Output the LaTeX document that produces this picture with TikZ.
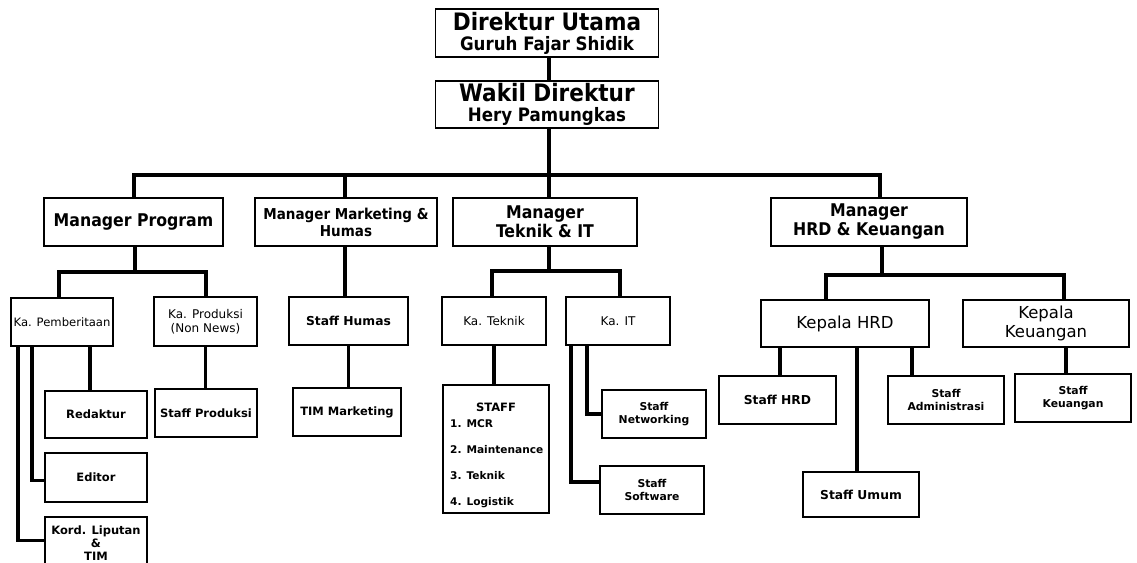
\documentclass[tikz,border=0pt]{standalone}
\usepackage{fontspec}
\setmainfont{DejaVu Sans}
\newfontfamily\hdfont{DejaVu Sans Condensed}
\newfontfamily\cmfont{DejaVu Sans}
\begin{document}
\begin{tikzpicture}[x=1pt,y=-1pt,
  box/.style={draw, line width=1.6pt, inner sep=0pt, align=center},
  sz/.style 2 args={minimum width=#1pt, minimum height=#2pt},
  conn/.style={line width=3.2pt},
  bus/.style={line width=4pt},
  top/.style={font=\hdfont\bfseries\fontsize{24}{20}\selectfont},
  hd/.style={font=\hdfont\bfseries\fontsize{17.5}{19}\selectfont},
  hds/.style={font=\hdfont\bfseries\fontsize{15}{17}\selectfont},
  sm/.style={font=\cmfont\bfseries\fontsize{11.5}{13}\selectfont},
  smb/.style={font=\cmfont\bfseries\fontsize{12.3}{14}\selectfont},
  sm2/.style={font=\cmfont\bfseries\fontsize{10.8}{13}\selectfont},
  smr/.style={font=\cmfont\fontsize{12}{14}\selectfont},
  kp/.style={font=\cmfont\fontsize{16.5}{19}\selectfont}]
\useasboundingbox (0,0) rectangle (1137,562);
\fill[white] (0,0) rectangle (1137,562);

% top
\node[box, sz={223}{48}, top] (dir) at (547,33)
  {Direktur Utama\\{\fontsize{18.5}{20}\selectfont Guruh Fajar Shidik}};
\node[box, sz={223}{47}, top] (wakil) at (547,104.5)
  {Wakil Direktur\\{\fontsize{18.5}{20}\selectfont Hery Pamungkas}};

% managers
\node[box, sz={179}{48}, hd] (mprog) at (133.5,222) {Manager Program};
\node[box, sz={182}{48}, hds] (mmark) at (346,222) {Manager Marketing \&\\Humas};
\node[box, sz={184}{48}, hd] (mtek) at (545,222) {Manager\\Teknik \& IT};
\node[box, sz={196}{48}, hd] (mhrd) at (869,222) {Manager\\HRD \& Keuangan};

% second level
\node[box, sz={102}{48}, smr, font=\cmfont\fontsize{11.6}{14}\selectfont] (kapem) at (62,322) {Ka. Pemberitaan};
\node[box, sz={103}{49}, smr] (kaprod) at (205.5,321.5) {Ka. Produksi\\(Non News)};
\node[box, sz={119}{48}, smb] (shumas) at (348.5,321) {Staff Humas};
\node[box, sz={104}{48}, smr] (katek) at (494,321) {Ka. Teknik};
\node[box, sz={104}{48}, smr] (kait) at (618,321) {Ka. IT};
\node[box, sz={168}{47}, kp] (kahrd) at (845,323.5) {Kepala HRD};
\node[box, sz={166}{47}, kp] (kakeu) at (1046,323.5) {Kepala\\Keuangan};

% third level
\node[box, sz={102}{47}, sm] (redaktur) at (96,414.5) {Redaktur};
\node[box, sz={102}{49}, sm] (editor) at (96,477.5) {Editor};
\node[box, sz={102}{53}, sm] (kord) at (96,543.5) {Kord. Liputan\\\&\\TIM};
\node[box, sz={102}{48}, sm] (sprod) at (206,413) {Staff Produksi};
\node[box, sz={108}{48}, sm] (timmark) at (347,412) {TIM Marketing};
\node[box, sz={106}{128}] (staffbox) at (496,449) {};
\node[sm, inner sep=0pt] (stafftitle) at (496,407) {STAFF};
\node[inner sep=0pt, anchor=north west, align=left, font=\cmfont\bfseries\fontsize{10.6}{26}\selectfont] (stafflist) at (450,419)
  {1. MCR\\2. Maintenance\\3. Teknik\\4. Logistik};
\node[box, sz={104}{48}, sm2] (snet) at (654,414) {Staff\\Networking};
\node[box, sz={104}{48}, sm2] (ssoft) at (652,490) {Staff\\Software};
\node[box, sz={117}{48}, smb] (shrd) at (777.5,400) {Staff HRD};
\node[box, sz={116}{45}, smb] (sumum) at (861,494.5) {Staff Umum};
\node[box, sz={116}{48}, sm2] (sadm) at (946,400) {Staff\\Administrasi};
\node[box, sz={116}{48}, sm2] (skeu) at (1073,398) {Staff\\Keuangan};

% coordinates
\coordinate (bL) at (134,175);
\coordinate (bR) at (880,175);
\coordinate (bW) at (549,175);
\coordinate (bM) at (345,175);
\coordinate (pP) at (135,272);
\coordinate (pL) at (59,272);
\coordinate (pR) at (206,272);
\coordinate (tL) at (492,271);
\coordinate (tR) at (620,271);
\coordinate (hP) at (882,275);
\coordinate (hL) at (826,275);
\coordinate (hR) at (1064,275);
\coordinate (e1) at (18,0);
\coordinate (e2) at (32,0);
\coordinate (e3) at (90,0);
\coordinate (i1) at (571,0);
\coordinate (i2) at (587,0);
\coordinate (k1) at (780,0);
\coordinate (k2) at (857,0);
\coordinate (k3) at (912,0);
\coordinate (k4) at (1066,0);

% connectors
\draw[conn] (dir.south -| bW) -- (wakil.north -| bW);
\draw[bus] (wakil.south -| bW) -- (bW);
\draw[bus] (bL |- mprog.north) -- (bL) -- (bR) -- (bR |- mhrd.north);
\draw[bus] (bM) -- (bM |- mmark.north);
\draw[bus] (bW) -- (bW |- mtek.north);

\draw[conn] (pP |- mprog.south) -- (pP);
\draw[conn] (pL |- kapem.north) -- (pL) -- (pR) -- (pR |- kaprod.north);
\draw[conn] (bM |- mmark.south) -- (bM |- shumas.north);
\draw[conn] (shumas.south) -- (shumas.south |- timmark.north);
\draw[conn] (bW |- mtek.south) -- (bW |- tL);
\draw[conn] (tL |- katek.north) -- (tL) -- (tR) -- (tR |- kait.north);
\draw[conn] (hP |- mhrd.south) -- (hP);
\draw[conn] (hL |- kahrd.north) -- (hL) -- (hR) -- (hR |- kakeu.north);

\draw[conn] (e3 |- kapem.south) -- (e3 |- redaktur.north);
\draw[conn] (e2 |- kapem.south) |- ([yshift=-3pt]editor.west);
\draw[conn] (e1 |- kapem.south) |- ([yshift=3pt]kord.west);
\draw[conn] (kaprod.south) -- (kaprod.south |- sprod.north);
\draw[conn] (katek.south) -- (katek.south |- staffbox.north);
\draw[conn] (i1 |- kait.south) |- ([yshift=8pt]ssoft.west);
\draw[conn] (i2 |- kait.south) |- (snet.west);
\draw[conn] (k1 |- kahrd.south) -- (k1 |- shrd.north);
\draw[conn] (k2 |- kahrd.south) -- (k2 |- sumum.north);
\draw[conn] (k3 |- kahrd.south) -- (k3 |- sadm.north);
\draw[conn] (k4 |- kakeu.south) -- (k4 |- skeu.north);
\end{tikzpicture}
\end{document}
